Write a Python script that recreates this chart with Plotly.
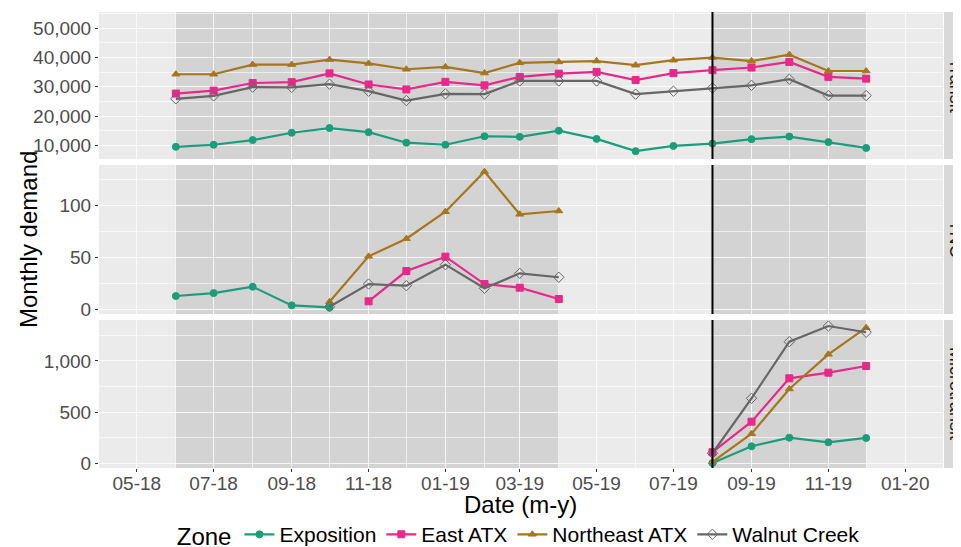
import plotly.graph_objects as go
from plotly.subplots import make_subplots

# months
transit_months = ["2018-06-01", "2018-07-01", "2018-08-01", "2018-09-01", "2018-10-01",
                  "2018-11-01", "2018-12-01", "2019-01-01", "2019-02-01", "2019-03-01",
                  "2019-04-01", "2019-05-01", "2019-06-01", "2019-07-01", "2019-08-01",
                  "2019-09-01", "2019-10-01", "2019-11-01", "2019-12-01"]
tnc_exp_months = ["2018-06-01", "2018-07-01", "2018-08-01", "2018-09-01", "2018-10-01"]
tnc_ne_months = ["2018-10-01", "2018-11-01", "2018-12-01", "2019-01-01", "2019-02-01",
                 "2019-03-01", "2019-04-01"]
tnc_east_months = ["2018-11-01", "2018-12-01", "2019-01-01", "2019-02-01", "2019-03-01",
                   "2019-04-01"]
micro_months = ["2019-08-01", "2019-09-01", "2019-10-01", "2019-11-01", "2019-12-01"]

# Transit
transit_exposition = [9500, 10200, 11800, 14300, 15900, 14500, 10900, 10200, 13100, 12900,
                      15000, 12200, 8000, 9800, 10600, 12100, 13000, 11100, 9100]
transit_east = [27700, 28700, 31300, 31600, 34600, 30800, 29100, 31700, 30500, 33400,
                34500, 35100, 32300, 34700, 35700, 36600, 38500, 33400, 32800]
transit_northeast = [34300, 34300, 37600, 37600, 39300, 38000, 36000, 36800, 34700, 38200,
                     38500, 38800, 37400, 39100, 40000, 38800, 41000, 35400, 35400]
transit_walnut = [25900, 26900, 29900, 29800, 30900, 28500, 25300, 27600, 27500, 32000,
                  32000, 32000, 27500, 28500, 29600, 30500, 32600, 27000, 27000]

# TNC
tnc_exposition = [13.2, 16.0, 22.1, 4.2, 2.3]
tnc_northeast = [7.7, 51.3, 68.3, 94.2, 132.7, 91.7, 94.9]
tnc_walnut = [2.9, 24.7, 23.1, 43.3, 20.6, 35.0, 31.2]
tnc_east = [8.1, 37.2, 51.0, 24.7, 21.2, 10.3]

# Microtransit
micro_exposition = [5, 168, 252, 207, 249]
micro_east = [110, 408, 831, 886, 951]
micro_northeast = [15, 291, 727, 1065, 1325]
micro_walnut = [100, 636, 1188, 1341, 1280]

zones = ["Exposition", "East ATX", "Northeast ATX", "Walnut Creek"]
colors = {"Exposition": "#1B9E77", "East ATX": "#E7298A",
          "Northeast ATX": "#A6761D", "Walnut Creek": "#666666"}
symbols = {"Exposition": "circle", "East ATX": "square",
           "Northeast ATX": "triangle-up", "Walnut Creek": "diamond-open"}
facets = ["Transit", "TNC", "Microtransit"]

panels = {
    1: {"Exposition": (transit_months, transit_exposition),
        "East ATX": (transit_months, transit_east),
        "Northeast ATX": (transit_months, transit_northeast),
        "Walnut Creek": (transit_months, transit_walnut)},
    2: {"Exposition": (tnc_exp_months, tnc_exposition),
        "East ATX": (tnc_east_months, tnc_east),
        "Northeast ATX": (tnc_ne_months, tnc_northeast),
        "Walnut Creek": (tnc_ne_months, tnc_walnut)},
    3: {"Exposition": (micro_months, micro_exposition),
        "East ATX": (micro_months, micro_east),
        "Northeast ATX": (micro_months, micro_northeast),
        "Walnut Creek": (micro_months, micro_walnut)},
}

fig = make_subplots(rows=3, cols=1, shared_xaxes=True)

for row, series in panels.items():
    for zone in zones:
        x, y = series[zone]
        fig.add_trace(go.Scatter(
            x=x, y=y, mode="lines+markers", name=zone, legendgroup=zone,
            showlegend=(row == 1),
            line=dict(color=colors[zone], width=2.2),
            marker=dict(symbol=symbols[zone], size=8 if zone == "Walnut Creek" else 7,
                        color=colors[zone], line=dict(width=1, color=colors[zone])),
        ), row=row, col=1)

# shaded periods and launch line in every facet
for row in range(1, 4):
    xref = "x" if row == 1 else f"x{row}"
    yref = "y domain" if row == 1 else f"y{row} domain"
    for x0, x1 in [("2018-06-01", "2019-04-01"), ("2019-08-01", "2019-12-01")]:
        fig.add_shape(type="rect", xref=xref, yref=yref, x0=x0, x1=x1, y0=0, y1=1,
                      fillcolor="#D3D3D3", line=dict(width=0), layer="below")
    fig.add_shape(type="line", xref=xref, yref=yref, x0="2019-08-01", x1="2019-08-01",
                  y0=0, y1=1, line=dict(color="black", width=2), layer="above")

domains = [[0.6776, 1.0], [0.3377, 0.6645], [0.0, 0.3246]]
yranges = [[5320, 55570], [-4.1, 139.1], [-44, 1400]]
ytick = [dict(tickvals=[10000, 20000, 30000, 40000, 50000], minor_vals=[5000 + 10000 * i for i in range(6)]),
         dict(tickvals=[0, 50, 100], minor_vals=[25, 75, 125]),
         dict(tickvals=[0, 500, 1000], minor_vals=[250, 750, 1250])]

for i in range(3):
    key = "yaxis" if i == 0 else f"yaxis{i + 1}"
    fig.layout[key].update(
        domain=domains[i], range=yranges[i], tickvals=ytick[i]["tickvals"], automargin=False,
        tickformat=",", showgrid=True, gridcolor="rgba(255,255,255,0.8)", gridwidth=1.1,
        zeroline=False, ticks="outside", ticklen=3, tickcolor="#333333",
        tickfont=dict(size=19, color="#4D4D4D"),
        minor=dict(tickvals=ytick[i]["minor_vals"], showgrid=True,
                   gridcolor="rgba(255,255,255,0.6)", gridwidth=0.5, ticks=""),
    )
    xkey = "xaxis" if i == 0 else f"xaxis{i + 1}"
    fig.layout[xkey].update(
        range=["2018-04-01", "2020-01-31"], dtick="M2", tick0="2018-05-01", automargin=False,
        tickformat="%m-%y", showgrid=True, gridcolor="rgba(255,255,255,0.8)", gridwidth=1.1,
        zeroline=False, ticks="outside" if i == 2 else "", ticklen=3, tickcolor="#333333",
        showticklabels=(i == 2), tickfont=dict(size=19, color="#4D4D4D"),
        ticklabelstandoff=-5,
        minor=dict(dtick="M1", tick0="2018-04-01", showgrid=True,
                   gridcolor="rgba(255,255,255,0.6)", gridwidth=0.5, ticks=""),
    )

# facet strips on the right
for i, name in enumerate(facets):
    d0, d1 = domains[i]
    fig.add_shape(type="rect", xref="paper", yref="paper", x0=1.0012, x1=1.04,
                  y0=d0, y1=d1, fillcolor="#D9D9D9", line=dict(width=0), layer="above")
    fig.add_annotation(text=name, xref="paper", yref="paper", x=1.0154, y=(d0 + d1) / 2,
                       xanchor="center", yanchor="middle", textangle=90, showarrow=False,
                       font=dict(size=18, color="#1A1A1A"))

fig.add_annotation(text="Monthly demand", xref="paper", yref="paper", x=-0.084, y=0.5,
                   xanchor="center", yanchor="middle", textangle=-90, showarrow=False,
                   font=dict(size=24, color="black"))
fig.add_annotation(text="Date (m-y)", xref="paper", yref="paper", x=0.499, y=-0.079,
                   xanchor="center", yanchor="middle", showarrow=False,
                   font=dict(size=24, color="black"))

# page body adds an 8px margin, so the figure is sized to fit the window
fig.update_layout(
    width=953, height=539,
    margin=dict(l=91, r=18, t=4, b=79),
    plot_bgcolor="#EBEBEB", paper_bgcolor="white",
    font=dict(family="Liberation Sans, Arial, sans-serif", color="black"),
    legend=dict(orientation="h", x=0.537, xref="container", xanchor="center",
                y=0.022, yref="container", yanchor="middle",
                title=dict(text="Zone", side="left", font=dict(size=24)),
                font=dict(size=21), itemwidth=30),
)

fig.write_html("out.html")
